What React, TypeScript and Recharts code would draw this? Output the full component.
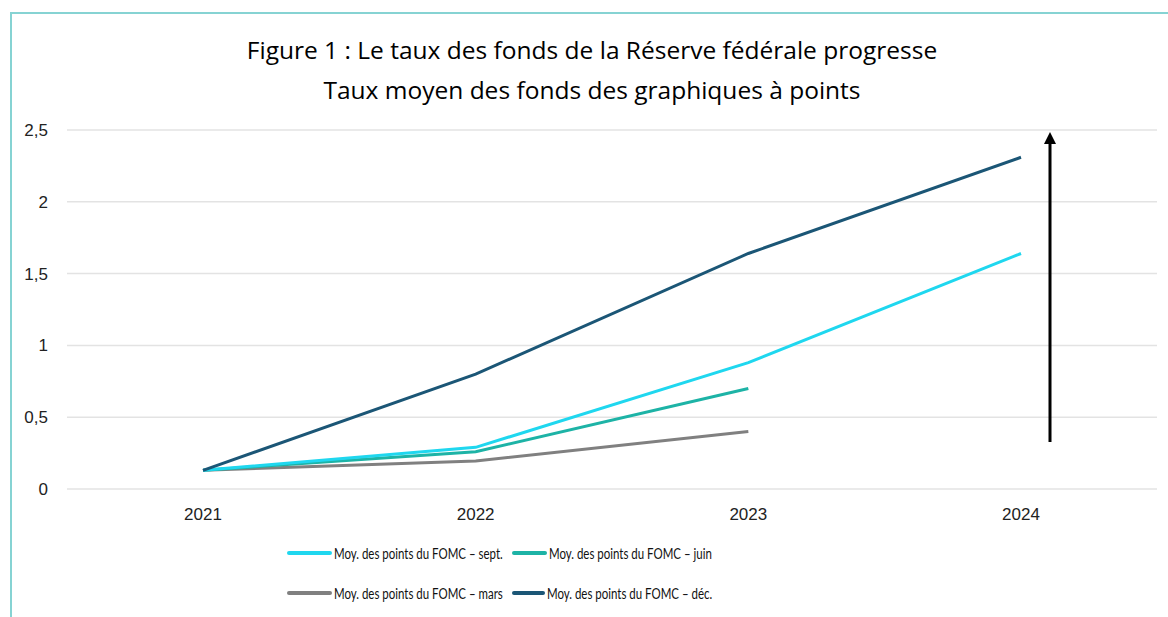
import React from 'react';
import { LineChart, Line, XAxis, YAxis, CartesianGrid } from 'recharts';

const years = ['2021', '2022', '2023', '2024'];
const sept = [0.13, 0.29, 0.88, 1.64];
const juin = [0.13, 0.26, 0.7, null];
const mars = [0.13, 0.195, 0.4, null];
const dec = [0.13, 0.8, 1.64, 2.31];
const yTicks = [0, 0.5, 1, 1.5, 2, 2.5];

const seriesNames = {
  sept: 'Moy. des points du FOMC – sept.',
  juin: 'Moy. des points du FOMC – juin',
  mars: 'Moy. des points du FOMC – mars',
  dec: 'Moy. des points du FOMC – déc.',
};
const colors = { sept: '#1fd7ef', juin: '#1db3a6', mars: '#808080', dec: '#1b5676' };

const data = years.map((y, i) => ({ year: y, sept: sept[i], juin: juin[i], mars: mars[i], dec: dec[i] }));

const legendFont = 'Lato, "Noto Sans", sans-serif';
const tickFont = '"Liberation Sans", Arial, sans-serif';

function LegendItem({ k, swatch }: { k: 'sept' | 'juin' | 'mars' | 'dec'; swatch: number }) {
  return (
    <div style={{ display: 'flex', alignItems: 'center' }}>
      <div style={{ width: swatch, height: 4, background: colors[k], borderRadius: 2, marginRight: 2 }} />
      <span style={{ fontFamily: legendFont, fontSize: 15.5, color: '#111', whiteSpace: 'nowrap', display: 'inline-block', transform: 'scaleX(0.74)', transformOrigin: 'left center' }}>{seriesNames[k]}</span>
    </div>
  );
}

export default function App() {
  return (
    <div style={{ position: 'absolute', left: 0, top: 0, width: 1168, height: 617, background: '#fff', overflow: 'hidden' }}>
      <div style={{ position: 'absolute', left: 10, top: 12, width: 1170, height: 620, borderTop: '2px solid #86d3d3', borderLeft: '2px solid #86d3d3' }} />
      <div style={{ position: 'absolute', left: 0, top: 30, width: 1184, textAlign: 'center', fontFamily: '"Open Sans", sans-serif', fontSize: 24.5, color: '#000', lineHeight: '40px' }}>
        <div>Figure 1 : Le taux des fonds de la Réserve fédérale progresse</div>
        <div>Taux moyen des fonds des graphiques à points</div>
      </div>
      <div style={{ position: 'absolute', left: 0, top: 0 }}>
        <LineChart width={1168} height={617} data={data} margin={{ top: 130, right: 11, bottom: 98, left: 0 }}>
          <CartesianGrid vertical={false} stroke="#e3e3e3" strokeWidth={1.5} />
          <XAxis
            dataKey="year"
            axisLine={false}
            tickLine={false}
            tickMargin={13}
            padding={{ left: 136, right: 136 }}
            tick={{ fill: '#222', fontSize: 17, fontFamily: tickFont }}
          />
          <YAxis
            domain={[0, 2.5]}
            ticks={yTicks}
            width={67}
            axisLine={false}
            tickLine={false}
            tickMargin={13}
            tickFormatter={(v: number) => String(v).replace('.', ',')}
            tick={{ fill: '#222', fontSize: 17, fontFamily: tickFont }}
          />
          <Line dataKey="mars" stroke={colors.mars} strokeWidth={3} dot={false} isAnimationActive={false} />
          <Line dataKey="juin" stroke={colors.juin} strokeWidth={3} dot={false} isAnimationActive={false} />
          <Line dataKey="sept" stroke={colors.sept} strokeWidth={3} dot={false} isAnimationActive={false} />
          <Line dataKey="dec" stroke={colors.dec} strokeWidth={3} dot={false} isAnimationActive={false} />
        </LineChart>
      </div>
      <svg style={{ position: 'absolute', left: 0, top: 0 }} width={1168} height={617}>
        <defs>
          <marker id="ah" markerWidth="4" markerHeight="4" refX="2" refY="2" orient="auto" markerUnits="strokeWidth">
            <path d="M0,0 L4,2 L0,4 z" fill="#000" />
          </marker>
        </defs>
        <line x1={1050} y1={442} x2={1050} y2={138} stroke="#000" strokeWidth={3} markerEnd="url(#ah)" />
      </svg>
      <div style={{ position: 'absolute', left: 287, top: 544 }}><LegendItem k="sept" swatch={45} /></div>
      <div style={{ position: 'absolute', left: 512, top: 544 }}><LegendItem k="juin" swatch={35} /></div>
      <div style={{ position: 'absolute', left: 287, top: 584 }}><LegendItem k="mars" swatch={45} /></div>
      <div style={{ position: 'absolute', left: 512, top: 584 }}><LegendItem k="dec" swatch={33} /></div>
    </div>
  );
}
